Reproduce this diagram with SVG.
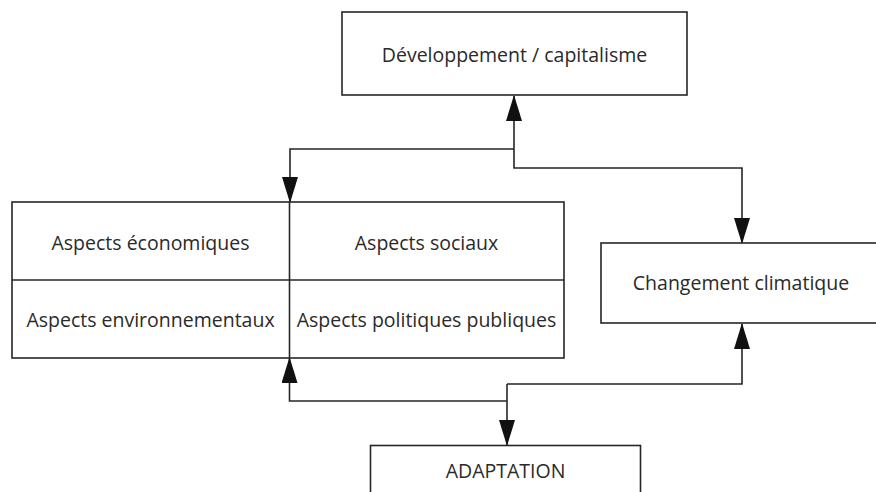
<svg xmlns="http://www.w3.org/2000/svg" width="876" height="492" viewBox="0 0 876 492">
<style>
.box{fill:#fff;stroke:#262626;stroke-width:1.6}
.div{stroke:#262626;stroke-width:1.6;fill:none}
.con{stroke:#262626;stroke-width:1.6;fill:none;marker-end:url(#arr)}
.lbl{font-family:"Open Sans","Noto Sans",sans-serif;font-size:19.5px;fill:#2a2a2a;text-anchor:middle}
</style>
<defs>
<marker id="arr" markerUnits="userSpaceOnUse" markerWidth="26" markerHeight="16" refX="25" refY="8" orient="auto">
<path d="M0,0 L26,8 L0,16 Z" fill="#111"/>
</marker>
</defs>
<rect width="876" height="492" fill="#fff"/>
<g id="connectors">
<path class="con" d="M514,149 L514,96"/>
<path class="con" d="M514,149 L290,149 L290,202"/>
<path class="con" d="M514,149 L514,168 L742,168 L742,243"/>
<path class="con" d="M507,401 L289.5,401 L289.5,358"/>
<path class="con" d="M507,384 L742,384 L742,324"/>
<path class="con" d="M507,384 L507,445"/>
</g>
<g id="developpement">
<rect class="box" x="342" y="12" width="345" height="83"/>
<text class="lbl" x="514.5" y="62">Développement / capitalisme</text>
</g>
<g id="aspects">
<rect class="box" x="12" y="202" width="552" height="156"/>
<line class="div" x1="289.5" y1="202" x2="289.5" y2="358"/>
<line class="div" x1="12" y1="280" x2="564" y2="280"/>
<text class="lbl" x="150.5" y="250">Aspects économiques</text>
<text class="lbl" x="426.5" y="250">Aspects sociaux</text>
<text class="lbl" x="150.5" y="327">Aspects environnementaux</text>
<text class="lbl" x="426.5" y="327">Aspects politiques publiques</text>
</g>
<g id="changement">
<rect class="box" x="601" y="243" width="290" height="80"/>
<text class="lbl" x="741" y="290">Changement climatique</text>
</g>
<g id="adaptation">
<rect class="box" x="370.5" y="445.5" width="270" height="60"/>
<text class="lbl" x="505.5" y="478">ADAPTATION</text>
</g>
</svg>
